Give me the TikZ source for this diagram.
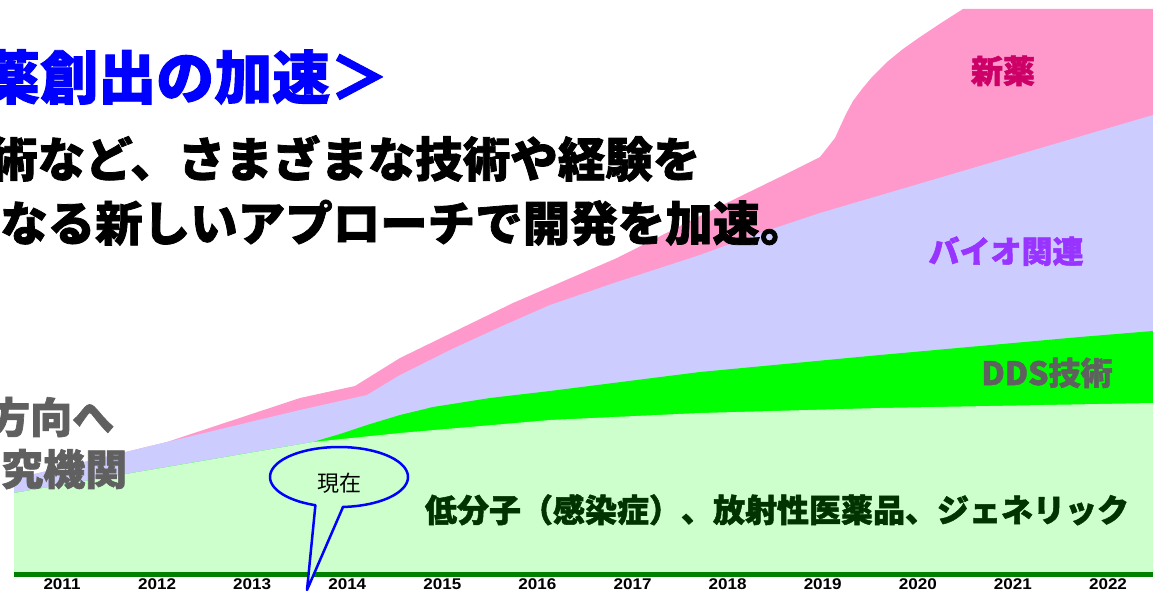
\documentclass[tikz,border=0pt]{standalone}
\usepackage{fontspec}
\usepackage{graphicx}
\newfontfamily\jp{Noto Sans CJK JP}[BoldFeatures={FakeBold=1.6}]
\newfontfamily\arial{Liberation Sans}
\definecolor{lgreen}{RGB}{204,255,204}
\definecolor{vgreen}{RGB}{0,255,0}
\definecolor{lav}{RGB}{204,204,255}
\definecolor{pinkA}{RGB}{255,153,204}
\definecolor{axisgreen}{RGB}{0,128,0}
\definecolor{newdrug}{RGB}{204,0,102}
\definecolor{bio}{RGB}{153,51,255}
\definecolor{grayT}{RGB}{96,96,96}
\definecolor{darkG}{RGB}{0,51,0}
\definecolor{calloutblue}{RGB}{0,0,255}
\tikzset{
  jpbold/.style={inner sep=0pt, font=\jp\bfseries\fontsize{#1}{#1}\selectfont},
  yearlab/.style={inner sep=0pt, anchor=base, font=\arial\bfseries\fontsize{15.5}{15.5}\selectfont},
}
\begin{document}
\begin{tikzpicture}[x=1pt,y=-1pt]
\useasboundingbox (0,0) rectangle (1153,591);
\clip (0,0) rectangle (1153,591);
\fill[white] (0,0) rectangle (1153,591);
% stacked areas
\fill[pinkA] (14,479) -- (167,442) -- (300,398) -- (355,386) -- (400,358) -- (513,303) -- (617,258) -- (700,216) -- (780,177) -- (820,157) -- (835,138) -- (840,127) -- (846,114) -- (853,101) -- (862,89) -- (872,77) -- (887,62) -- (903,49) -- (920,37) -- (941,23) -- (963,9) -- (1153,9) -- (1153,572) -- (14,572) -- cycle;
\fill[lav] (14,479) -- (167,442) -- (300,410) -- (367,395) -- (400,375) -- (450,350) -- (500,327) -- (550,305) -- (617,282) -- (700,255) -- (760,233) -- (820,213) -- (1153,115) -- (1153,572) -- (14,572) -- cycle;
\fill[vgreen] (14,493) -- (167,467) -- (313,442) -- (340,434) -- (367,425) -- (400,415) -- (433,407) -- (490,398) -- (550,391) -- (700,372) -- (880,355) -- (1080,337) -- (1153,331) -- (1153,572) -- (14,572) -- cycle;
\fill[lgreen] (14,493) -- (167,467) -- (313,442) -- (400,433) -- (550,420) -- (700,413) -- (880,408) -- (1153,403) -- (1153,572) -- (14,572) -- cycle;
% axis
\fill[axisgreen] (14,572) rectangle (1153,577);
% callout
\path[draw=calloutblue, line width=2.5, line join=round, fill=lgreen] (343,507) -- (307,590) -- (315.4,505.2) -- plot[domain=110:447, samples=90] ({339+69*cos(\x)},{477+30*sin(\x)}) -- cycle;
\node[inner sep=0pt, anchor=base, font=\jp\fontsize{22}{22}\selectfont] (genzai) at (339,491) {現在};
% years
\foreach \i/\yr in {0/2011,1/2012,2/2013,3/2014,4/2015,5/2016,6/2017,7/2018,8/2019,9/2020,10/2021,11/2022}
  \node[yearlab] (y\yr) at ({62+95.09*\i},589.5) {\scalebox{1.1}[1]{\yr}};
% labels in chart
\node[jpbold=32, anchor=base, text=newdrug] (shinyaku) at (1003,83) {新薬};
\node[jpbold=31, anchor=base, text=bio] (bio) at (1006,263) {バイオ関連};
\node[jpbold=32, anchor=base, text=grayT] (dds) at (1047,385) {DDS技術};
\node[jpbold=32, anchor=base, text=darkG] (low) at (777,522) {低分子（感染症）、放射性医薬品、ジェネリック};
% headline texts
\node[jpbold=58, anchor=base west, text=calloutblue] (title) at (-18,99) {薬創出の加速＞};
\node[jpbold=47.5, anchor=base west, text=black] (line1) at (-10,177) {術など、さまざまな技術や経験を};
\node[jpbold=47.5, anchor=base west, text=black] (line2) at (0,241) {なる新しいアプローチで開発を加速。};
\node[jpbold=42, anchor=base west, text=grayT] (hoko) at (-12,433) {方向へ};
\node[jpbold=42, anchor=base west, text=grayT] (kikan) at (1,485) {究機関};
\end{tikzpicture}
\end{document}
